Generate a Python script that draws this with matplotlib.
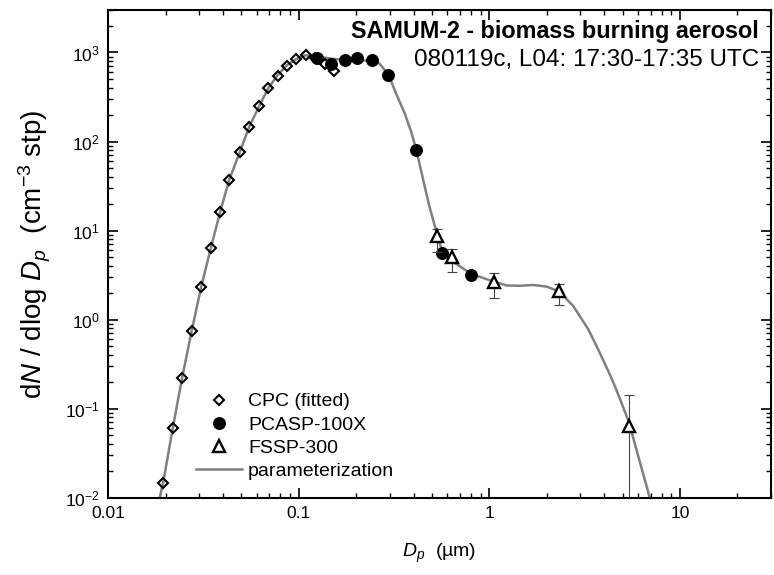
import numpy as np
import matplotlib.pyplot as plt
from matplotlib.ticker import LogLocator, FuncFormatter, NullFormatter

plt.rcParams['font.family'] = ['Liberation Sans', 'DejaVu Sans']
plt.rcParams['mathtext.fontset'] = 'custom'
plt.rcParams['mathtext.rm'] = 'Liberation Sans'
plt.rcParams['mathtext.it'] = 'Liberation Sans:italic'
plt.rcParams['mathtext.bf'] = 'Liberation Sans:bold'

# CPC (fitted) - diamonds
cpc_dp = [0.01936, 0.02178, 0.02436, 0.0274, 0.03065, 0.03446, 0.03855, 0.04313,
          0.0491, 0.05492, 0.06197, 0.06911, 0.07739, 0.0863, 0.0966, 0.1086,
          0.1218, 0.1367, 0.1534]
cpc_dn = [0.0147, 0.0606, 0.222, 0.749, 2.32, 6.35, 16.1, 37.1,
          77.0, 147, 251, 396, 549, 711, 846, 937,
          868, 743, 620]

# PCASP-100X - filled circles
pcasp_dp = [0.124, 0.1474, 0.1745, 0.2025, 0.241, 0.2952, 0.4115, 0.5614, 0.7997]
pcasp_dn = [868, 743, 813, 868, 824, 566, 80.5, 5.55, 3.21]

# FSSP-300 - open triangles with error bars
fssp_dp = [0.5284, 0.6378, 1.056, 2.323, 5.395]
fssp_dn = [8.72, 5.11, 2.68, 2.07, 0.0643]
fssp_lo = [5.81, 3.47, 1.74, 1.47, 0.001]
fssp_hi = [10.53, 6.18, 3.38, 2.54, 0.1406]

# parameterization curve
param_dp = [0.0183, 0.0194, 0.0218, 0.0244, 0.0274, 0.0307, 0.0345, 0.0386, 0.0431,
            0.0491, 0.0549, 0.0620, 0.0690, 0.0770, 0.0860, 0.0970, 0.108, 0.120,
            0.135, 0.150, 0.170, 0.200, 0.230, 0.264, 0.295, 0.326, 0.360, 0.390,
            0.412, 0.440, 0.480, 0.528, 0.561, 0.641, 0.800, 1.047, 1.231, 1.445,
            1.697, 1.995, 2.323, 2.753, 3.30, 3.80, 4.29, 4.65, 5.40, 6.0, 6.68, 7.0]
param_dn = [0.0085, 0.0147, 0.0606, 0.222, 0.749, 2.32, 6.35, 16.1, 37.1,
            77, 147, 251, 396, 549, 711, 846, 930, 910,
            880, 850, 830, 825, 810, 757, 566, 333, 205, 125,
            82, 45, 20, 9.5, 6.1, 4.5, 3.27, 2.68, 2.42, 2.40,
            2.45, 2.35, 2.07, 1.42, 0.78, 0.42, 0.24, 0.16, 0.07, 0.0306, 0.0134, 0.0093]

fig = plt.figure(figsize=(7.74, 5.75), dpi=100)
ax = fig.add_axes([0.1399, 0.1344, 0.8562, 0.8482])
ax.set_xscale('log')
ax.set_yscale('log')

ax.plot(param_dp, param_dn, color='#808080', lw=1.8, zorder=1, label='parameterization')
ax.plot(cpc_dp, cpc_dn, ls='none', marker='D', ms=5.5, mfc='none', mec='black',
        mew=1.5, zorder=2, label='CPC (fitted)')
ax.plot(pcasp_dp, pcasp_dn, ls='none', marker='o', ms=8.5, mfc='black', mec='black',
        mew=0.8, zorder=3, label='PCASP-100X')
fssp_err = [np.array(fssp_dn) - np.array(fssp_lo), np.array(fssp_hi) - np.array(fssp_dn)]
ax.errorbar(fssp_dp, fssp_dn, yerr=fssp_err, fmt='none', ecolor='#444444',
            elinewidth=0.8, capsize=3.5, capthick=0.8, zorder=4)
ax.plot(fssp_dp, fssp_dn, ls='none', marker='^', ms=8, mfc='white', mec='black',
        mew=1.7, zorder=5, label='FSSP-300')

ax.set_xlim(0.01, 30)
ax.set_ylim(0.01, 3000)

ax.xaxis.set_major_locator(LogLocator(base=10, numticks=10))
ax.xaxis.set_minor_locator(LogLocator(base=10, subs=np.arange(2, 10), numticks=20))
ax.xaxis.set_major_formatter(FuncFormatter(lambda v, p: f'{v:g}'))
ax.xaxis.set_minor_formatter(NullFormatter())
ax.yaxis.set_major_locator(LogLocator(base=10, numticks=10))
ax.yaxis.set_minor_locator(LogLocator(base=10, subs=np.arange(2, 10), numticks=20))
ax.yaxis.set_major_formatter(FuncFormatter(
    lambda v, p: r'$10^{%d}$' % int(round(np.log10(v)))))
ax.yaxis.set_minor_formatter(NullFormatter())

ax.tick_params(which='both', direction='in', top=True, right=True)
ax.tick_params(which='major', length=7, width=1.2, labelsize=12.5, pad=6)
ax.tick_params(which='minor', length=3.5, width=1)
for s in ax.spines.values():
    s.set_linewidth(1.5)

ax.set_xlabel(r'$D_p$  (µm)', fontsize=14, labelpad=15)
ax.set_ylabel(r'd$N$ / dlog $D_p$  (cm$^{-3}$ stp)', fontsize=20, labelpad=9)

ax.text(0.982, 0.955, 'SAMUM-2 - biomass burning aerosol', transform=ax.transAxes,
        ha='right', va='center', fontsize=16.8, fontweight='bold')
ax.text(0.982, 0.8965, '080119c, L04: 17:30-17:35 UTC', transform=ax.transAxes,
        ha='right', va='center', fontsize=17.5)

h, l = ax.get_legend_handles_labels()
order = [1, 2, 3, 0]
ax.legend([h[i] for i in order], [l[i] for i in order], loc='lower left',
          bbox_to_anchor=(0.12, 0.02), frameon=False, fontsize=14,
          handlelength=2.4, handletextpad=0.3, labelspacing=0.29, borderaxespad=0)

fig.savefig('out.png', dpi=100)
